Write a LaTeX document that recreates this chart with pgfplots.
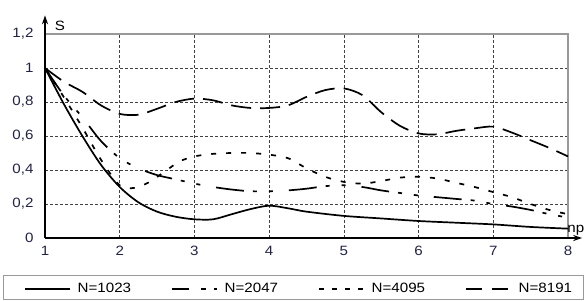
\documentclass[border=0pt]{standalone}
\usepackage{fontspec}
\setmainfont{Liberation Sans}[FakeStretch=1.12]
\usepackage{pgfplots}
\pgfplotsset{compat=1.18}
\usetikzlibrary{arrows.meta}
\definecolor{lbl}{RGB}{35,35,70}
\begin{document}
\begin{tikzpicture}[x=1pt,y=1pt]
\useasboundingbox (0,0) rectangle (586,300);
\begin{axis}[
  at={(45pt,62pt)}, anchor=south west,
  scale only axis, width=523pt, height=204pt,
  xmin=1, xmax=8, ymin=0, ymax=1.2,
  xtick={1,2,3,4,5,6,7,8},
  ytick={0,0.2,0.4,0.6,0.8,1,1.2},
  /pgf/number format/.cd, use comma, assume math mode=true,
  /pgfplots/.cd,
  axis line style={draw=none},
  major tick length=0pt,
  tick label style={font=\fontsize{13.5}{15}\selectfont, text=lbl},
  xticklabel style={yshift=-5pt},
  yticklabel style={xshift=-8pt},
  grid=major,
  major grid style={black!75, line width=0.7pt, dash pattern=on 3pt off 2pt},
  clip=false,
  legend columns=4,
  legend style={draw=none, fill=none, at={(axis description cs:-0.046,-0.25)}, anchor=west,
    font=\fontsize{13.5}{15}\selectfont,
    nodes={inner sep=2pt},
    /tikz/every odd column/.append style={column sep=5pt},
    /tikz/every even column/.append style={column sep=38pt}},
  legend image code/.code={\draw[#1] (0pt,0pt) -- (45pt,0pt);},
]
\draw[gray!80, line width=1.2pt] (axis cs:1,1.2) -- (axis cs:8,1.2) -- (axis cs:8,0);

\addlegendimage{black, line width=1.6pt}
\addlegendentry{N=1023}
\addlegendimage{black, line width=1.6pt, dash pattern=on 17pt off 12pt on 5pt off 8pt on 5pt off 8pt}
\addlegendentry{N=2047}
\addlegendimage{black, line width=1.6pt, dash pattern=on 5pt off 8pt}
\addlegendentry{N=4095}
\addlegendimage{black, line width=1.6pt, dash pattern=on 16pt off 10pt}
\addlegendentry{N=8191}

\addplot[forget plot, black, line width=1.7pt, smooth] coordinates {
(1,1) (1.25,0.79) (1.5,0.6) (1.75,0.43) (2,0.3) (2.25,0.21) (2.5,0.155) (2.75,0.125)
(3,0.11) (3.25,0.11) (3.5,0.14) (3.75,0.17) (4,0.19) (4.25,0.175) (4.5,0.155)
(5,0.13) (5.5,0.115) (6,0.1) (6.5,0.09) (7,0.08) (7.5,0.065) (8,0.055)};

\addplot[forget plot, black, line width=1.7pt, smooth, dash pattern=on 28pt off 9pt on 4pt off 12pt on 4pt off 16pt] coordinates {
(1,1) (1.25,0.84) (1.5,0.71) (1.75,0.57) (2,0.47) (2.25,0.41) (2.5,0.37) (2.75,0.345)
(3,0.32) (3.25,0.3) (3.5,0.285) (3.75,0.275) (4,0.275) (4.25,0.28) (4.5,0.29) (4.75,0.305)
(5,0.31) (5.25,0.3) (5.5,0.28) (5.75,0.265) (6,0.25) (6.25,0.24) (6.5,0.23) (6.75,0.22)
(7,0.2) (7.25,0.185) (7.5,0.165) (7.75,0.14) (8,0.12)};

\addplot[forget plot, black, line width=1.7pt, smooth, dash pattern=on 5pt off 10pt] coordinates {
(1,1) (1.25,0.83) (1.5,0.65) (1.75,0.46) (2,0.31) (2.2,0.295) (2.4,0.33) (2.6,0.39)
(2.8,0.45) (3,0.48) (3.25,0.495) (3.5,0.5) (3.75,0.5) (4,0.49) (4.25,0.47) (4.5,0.41)
(4.75,0.36) (5,0.33) (5.25,0.32) (5.5,0.335) (5.75,0.355) (6,0.36) (6.25,0.35) (6.5,0.325)
(6.75,0.3) (7,0.27) (7.25,0.24) (7.5,0.2) (7.75,0.165) (8,0.14)};

\addplot[forget plot, black, line width=1.7pt, smooth, dash pattern=on 20pt off 9pt] coordinates {
(1,1) (1.25,0.92) (1.5,0.86) (1.75,0.78) (2,0.73) (2.25,0.725) (2.5,0.76) (2.75,0.8)
(3,0.82) (3.25,0.81) (3.5,0.78) (3.75,0.765) (4,0.765) (4.25,0.78) (4.5,0.83) (4.75,0.87)
(5,0.88) (5.25,0.84) (5.5,0.74) (5.75,0.66) (6,0.615) (6.25,0.61) (6.5,0.63) (6.75,0.645)
(7,0.655) (7.25,0.62) (7.5,0.575) (7.75,0.53) (8,0.48)};

\draw[black, line width=2.5pt, -{Stealth[length=9pt,width=6pt]}] (axis cs:1,0) -- (axis cs:1,1.31);
\draw[black, line width=2.5pt, -{Stealth[length=9pt,width=6pt]}] (axis cs:1,0) -- (axis cs:8.19,0);
\node[font=\fontsize{13.5}{15}\selectfont] at (axis cs:1.2,1.247) {S};
\node[anchor=west, inner sep=0pt, font=\fontsize{13.5}{15}\selectfont] at (axis cs:7.99,0.047) {np};
\end{axis}
\draw[gray!80, line width=1pt] (3,0.5) rectangle (583,25);
\end{tikzpicture}
\end{document}
